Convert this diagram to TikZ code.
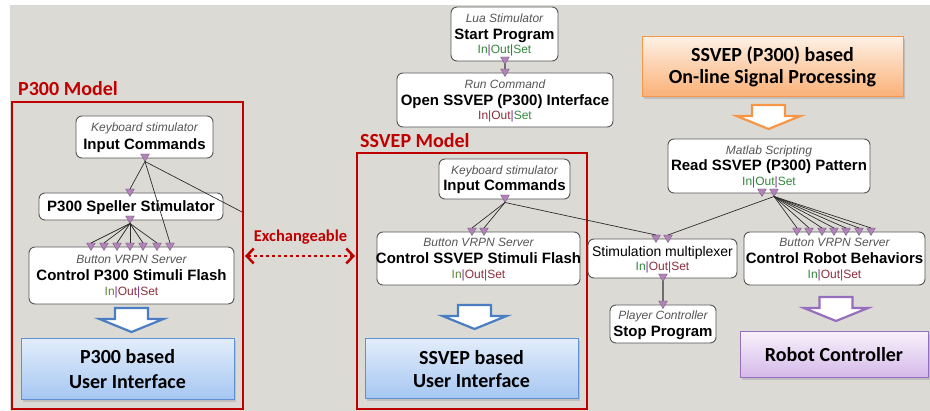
\documentclass[tikz,border=0pt]{standalone}
\usepackage{fontspec}
\setmainfont{Liberation Sans}
\newfontfamily\calib{Carlito}
\usetikzlibrary{arrows.meta,shapes.geometric}

\definecolor{bg}{RGB}{220,218,213}
\definecolor{redm}{RGB}{192,0,0}
\definecolor{boxline}{RGB}{85,85,85}
\definecolor{portfill}{RGB}{178,130,186}
\definecolor{portline}{RGB}{120,95,125}
\definecolor{wirec}{RGB}{45,45,45}
\definecolor{stimc}{RGB}{110,110,110}
\definecolor{iosg}{RGB}{50,135,60}
\definecolor{iosb}{RGB}{140,45,60}
\definecolor{iosbar}{RGB}{125,50,145}
\definecolor{iosin}{RGB}{95,135,55}
\definecolor{ital}{RGB}{85,85,85}
\definecolor{bluetop}{RGB}{226,237,251}
\definecolor{bluebot}{RGB}{165,198,242}
\definecolor{blueline}{RGB}{95,145,210}
\definecolor{bluearrow}{RGB}{75,125,195}
\definecolor{orgtop}{RGB}{254,240,228}
\definecolor{orgbot}{RGB}{250,176,118}
\definecolor{orgline}{RGB}{247,150,70}
\definecolor{purtop}{RGB}{248,241,251}
\definecolor{purbot}{RGB}{212,184,233}
\definecolor{purline}{RGB}{150,110,190}

\newcommand\ios[3]{\textcolor{#1}{In}\textcolor{iosbar}{|}\textcolor{#2}{Out}\textcolor{iosbar}{|}\textcolor{#3}{Set}}
\newcommand\blockarrow[3]{%
  \draw[line width=2.2pt, draw=#3, fill=white, line join=miter]
    (#1-16.5,#2) -- (#1+16.5,#2) -- (#1+16.5,#2+11) -- (#1+32,#2+11) --
    (#1,#2+24) -- (#1-32,#2+11) -- (#1-16.5,#2+11) -- cycle;}

\begin{document}
\begin{tikzpicture}[x=1pt,y=-1pt,
  box/.style={draw=boxline, fill=white, rounded corners=6pt, line width=0.9pt, inner sep=0pt, outer sep=0pt},
  port/.style={regular polygon, regular polygon sides=3, shape border rotate=180, minimum size=10pt,
    inner sep=0pt, outer sep=0pt, fill=portfill, draw=portline, line width=0.4pt},
  wire/.style={draw=wirec, line width=0.7pt},
  stimwire/.style={draw=stimc, line width=1.8pt},
  it/.style={anchor=base, inner sep=0pt, font=\fontsize{12}{14}\selectfont\itshape, text=ital},
  bd/.style={anchor=base, inner sep=0pt, font=\fontsize{15}{18}\selectfont\bfseries},
  rg/.style={anchor=base, inner sep=0pt, font=\fontsize{14}{16}\selectfont},
  iosl/.style={anchor=base, inner sep=0pt, font=\fontsize{12}{14}\selectfont},
  model/.style={anchor=base west, inner sep=0pt, font=\calib\fontsize{20}{24}\selectfont\bfseries, text=redm},
  big/.style={anchor=base, inner sep=0pt, font=\calib\fontsize{20}{24}\selectfont\bfseries},
  gbox/.style={draw=#1, line width=1pt, inner sep=0pt, outer sep=0pt},
  frame/.style={draw=redm, line width=2.5pt}
]
\useasboundingbox (0,0) rectangle (930,411);
\fill[white] (0,0) rectangle (930,411);
\fill[bg] (10,5) rectangle (930,411);

% ---------- model frames ----------
\draw[frame] (12,102) rectangle (243,409);
\draw[frame] (357,153) rectangle (587,409);
\node[model] (lp300) at (18,96) {P300 Model};
\node[model] (lssvep) at (360,148) {SSVEP Model};

% ---------- P300 model ----------
\node[box, minimum width=137pt, minimum height=42pt] (kb1) at (144.5,137) {};
\node[it] (kb1a) at (144.5,132) {Keyboard stimulator};
\node[bd] (kb1b) at (144.5,150) {Input Commands};

\node[box, minimum width=184pt, minimum height=27pt] (sp1) at (131,206.5) {};
\node[bd] (sp1a) at (131,212) {P300 Speller Stimulator};

\node[box, minimum width=205pt, minimum height=57pt] (cp1) at (131.5,275.5) {};
\node[it] (cp1a) at (131.5,264) {Button VRPN Server};
\node[bd] (cp1b) at (131.5,281) {Control P300 Stimuli Flash};
\node[iosl] (cp1c) at (131.5,296) {\ios{iosin}{iosb}{iosb}};

\node[port] (kb1o) at (145,156.5) {};
\node[port] (sp1i) at (130,191.5) {};
\node[port] (sp1o) at (130,218.5) {};
\foreach \i/\x in {1/91,2/104,3/117,4/130,5/143,6/157,7/170}
  \node[port] (cp1i\i) at (\x,245.5) {};

\coordinate (cut) at (242,212);
\draw[wire] (kb1o.south) -- (sp1i.north);
\draw[wire] (kb1o.south) -- (cp1i7.north);
\draw[wire] (kb1o.south) -- (cut);
\foreach \i in {1,...,6}
  \draw[wire] (sp1o.south) -- (cp1i\i.north);

\blockarrow{131.5}{308}{bluearrow}
\fill[black!25] (23,341) rectangle (236,402);
\node[gbox=blueline, top color=bluetop, bottom color=bluebot, minimum width=213pt, minimum height=61pt] (ui1) at (127.5,369.5) {};
\node[big] (ui1a) at (127.5,364) {P300 based};
\node[big] (ui1b) at (127.5,389) {User Interface};

% ---------- Exchangeable ----------
\node[anchor=base, inner sep=0pt, font=\calib\fontsize{16.5}{20}\selectfont\bfseries, text=redm] (exch) at (300.5,242) {Exchangeable};
\coordinate (exl) at (245,256);
\coordinate (exr) at (355,256);
\draw[redm, line width=2.5pt, dash pattern=on 3pt off 3pt,
  {Straight Barb[length=7pt,width=15pt,line width=2.5pt]}-{Straight Barb[length=7pt,width=15pt,line width=2.5pt]}] (exl) -- (exr);

% ---------- top program ----------
\node[box, minimum width=107pt, minimum height=54pt] (st) at (504.5,34) {};
\node[it] (sta) at (504.5,23) {Lua Stimulator};
\node[bd] (stb) at (504.5,40) {Start Program};
\node[iosl] (stc) at (504.5,54) {\ios{iosg}{iosg}{iosg}};

\node[box, minimum width=216pt, minimum height=54pt] (op) at (505,100) {};
\node[it] (opa) at (505,89) {Run Command};
\node[bd] (opb) at (505,106) {Open SSVEP (P300) Interface};
\node[iosl] (opc) at (505,120) {\ios{iosb}{iosb}{iosg}};

\node[port] (sto) at (505,59.5) {};
\node[port] (opi) at (505,71.5) {};
\draw[stimwire] (sto.south) -- (opi.north);

% ---------- SSVEP model ----------
\node[box, minimum width=131pt, minimum height=40pt] (kb2) at (504.5,179) {};
\node[it] (kb2a) at (504.5,175) {Keyboard stimulator};
\node[bd] (kb2b) at (504.5,191) {Input Commands};

\node[box, minimum width=203pt, minimum height=53pt] (cs) at (478.5,258.5) {};
\node[it] (csa) at (478.5,247) {Button VRPN Server};
\node[bd] (csb) at (478.5,264) {Control SSVEP Stimuli Flash};
\node[iosl] (csc) at (478.5,279) {\ios{iosin}{iosb}{iosb}};

\node[port] (kb2o) at (505,197.5) {};
\node[port] (csi1) at (472,230.5) {};
\node[port] (csi2) at (484,230.5) {};

\blockarrow{474.5}{305}{bluearrow}
\fill[black!25] (367,341) rectangle (580,401);
\node[gbox=blueline, top color=bluetop, bottom color=bluebot, minimum width=213pt, minimum height=60pt] (ui2) at (471.5,369) {};
\node[big] (ui2a) at (471.5,365) {SSVEP based};
\node[big] (ui2b) at (471.5,388) {User Interface};

% ---------- multiplexer / stop ----------
\node[box, minimum width=149pt, minimum height=39pt] (mx) at (662.5,258.5) {};
\node[rg] (mxa) at (662.5,257) {Stimulation multiplexer};
\node[iosl] (mxc) at (662.5,271) {\ios{iosg}{iosb}{iosb}};

\node[box, minimum width=106pt, minimum height=38pt] (stp) at (663,324) {};
\node[it] (stpa) at (663,320) {Player Controller};
\node[bd] (stpb) at (663,337) {Stop Program};

\node[port] (mxi1) at (656,237.5) {};
\node[port] (mxi2) at (668,237.5) {};
\node[port] (mxo) at (663,276.5) {};
\node[port] (stpi) at (663,303.5) {};
\draw[stimwire] (mxo.south) -- (stpi.north);

% ---------- signal processing ----------
\fill[black!25] (644,39) rectangle (905,99);
\node[gbox=orgline, top color=orgtop, bottom color=orgbot, minimum width=261pt, minimum height=60pt] (osp) at (772.5,67) {};
\node[big] (ospa) at (772.5,62) {SSVEP (P300) based};
\node[big] (ospb) at (772.5,84) {On-line Signal Processing};
\blockarrow{768.5}{105}{orgline}

\node[box, minimum width=202pt, minimum height=54pt] (rd) at (769,166) {};
\node[it] (rda) at (769,155) {Matlab Scripting};
\node[bd] (rdb) at (769,171) {Read SSVEP (P300) Pattern};
\node[iosl] (rdc) at (769,186) {\ios{iosg}{iosg}{iosg}};
\node[port] (rdo1) at (762,191.5) {};
\node[port] (rdo2) at (774,191.5) {};

\node[box, minimum width=181pt, minimum height=53pt] (rb) at (834.5,258.5) {};
\node[it] (rba) at (834.5,247) {Button VRPN Server};
\node[bd] (rbb) at (834.5,264) {Control Robot Behaviors};
\node[iosl] (rbc) at (834.5,279) {\ios{iosg}{iosb}{iosb}};
\foreach \i/\x in {1/797,2/809,3/822,4/834,5/846,6/859,7/871}
  \node[port] (rbi\i) at (\x,230.5) {};

\blockarrow{836}{297}{purline}
\fill[black!25] (742,334) rectangle (930,380);
\node[gbox=purline, top color=purtop, bottom color=purbot, minimum width=188pt, minimum height=46pt] (robot) at (834,355) {};
\node[big] (robota) at (834,362) {Robot Controller};

% ---------- wires ----------
\draw[wire] (kb2o.south) -- (csi1.north);
\draw[wire] (kb2o.south) -- (csi2.north);
\draw[wire] (kb2o.south) -- (mxi1.north);
\draw[wire] (rdo2.south) -- (mxi2.north);
\foreach \i in {1,...,7}
  \draw[wire] (rdo2.south) -- (rbi\i.north);
\end{tikzpicture}
\end{document}
